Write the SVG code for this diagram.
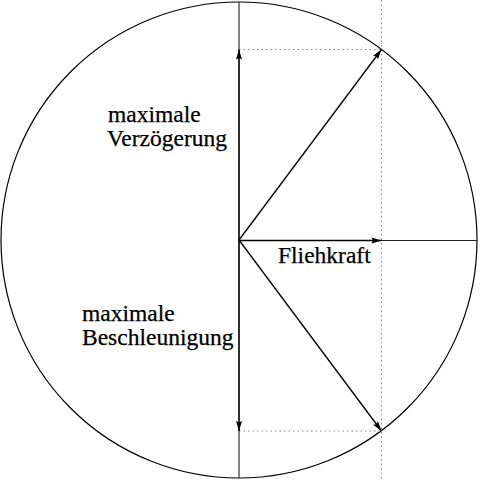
<svg xmlns="http://www.w3.org/2000/svg" width="480" height="480" viewBox="0 0 480 480">
<style>
.ln{stroke:#000;stroke-width:1.2;fill:none}
.ax{stroke:#222;stroke-width:1.1;fill:none}
.dot{stroke:#888;stroke-width:1;stroke-dasharray:1.5 3;fill:none}
.arr{stroke:#000;stroke-width:1.3;fill:none;marker-end:url(#ah)}
text{font-family:"Liberation Serif","Times New Roman",serif;font-size:23.5px;fill:#000;stroke:#000;stroke-width:0.25}
</style>
<defs>
<marker id="ah" markerUnits="userSpaceOnUse" markerWidth="12" markerHeight="8" refX="10" refY="3" orient="auto" overflow="visible">
<path d="M0,0 L10,3 L0,6 L1.5,3 z" fill="#000"/>
</marker>
</defs>
<rect width="480" height="480" fill="#fff"/>
<g id="circle"><circle cx="239" cy="240" r="238" class="ln"/></g>
<g id="guides">
<line x1="381.5" y1="0" x2="381.5" y2="480" class="dot"/>
<line x1="239" y1="49.5" x2="381.5" y2="49.5" class="dot"/>
<line x1="239" y1="431" x2="381.5" y2="431" class="dot"/>
</g>
<g id="axes">
<line x1="239" y1="2" x2="239" y2="478" class="ax"/>
<line x1="239" y1="240.5" x2="477" y2="240.5" class="ax"/>
</g>
<g id="connectors">
<line x1="239" y1="240" x2="239" y2="49.5" class="arr"/>
<line x1="239" y1="240" x2="239" y2="431" class="arr"/>
<line x1="239" y1="240" x2="381.5" y2="49.5" class="arr"/>
<line x1="239" y1="240" x2="381.5" y2="431" class="arr"/>
<line x1="239" y1="240.5" x2="381.5" y2="240.5" class="arr"/>
</g>
<g id="label-verzoegerung">
<text x="108" y="122">maximale</text>
<text x="107" y="146">Verzögerung</text>
</g>
<g id="label-beschleunigung">
<text x="82" y="321">maximale</text>
<text x="82" y="345">Beschleunigung</text>
</g>
<g id="label-fliehkraft"><text x="278" y="263">Fliehkraft</text></g>
</svg>
